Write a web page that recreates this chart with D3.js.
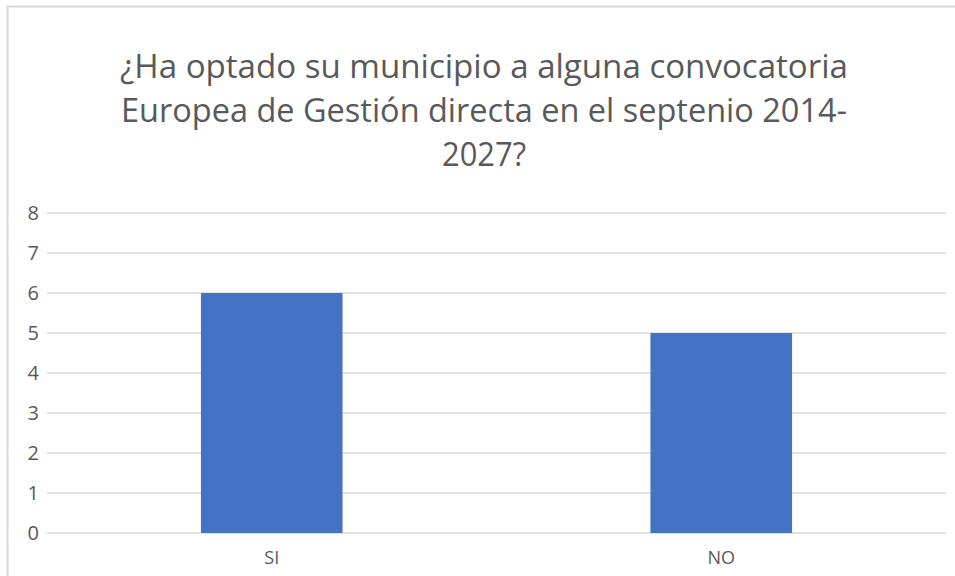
<!DOCTYPE html>
<html>
<head>
<meta charset="utf-8">
<style>
  html, body { margin: 0; padding: 0; background: #fff; }
  svg { display: block; }
  text { font-family: "Open Sans", "Noto Sans", sans-serif; fill: #595959; }
</style>
</head>
<body>
<svg width="955" height="576"></svg>
<script src="https://d3js.org/d3.v7.min.js"></script>
<script>
var categories = ["SI", "NO"];
var values = [6, 5];
var yTicks = [0, 1, 2, 3, 4, 5, 6, 7, 8];
var titleLines = [
  "¿Ha optado su municipio a alguna convocatoria",
  "Europea de Gestión directa en el septenio 2014-",
  "2027?"
];

var svg = d3.select("svg"),
    width = +svg.attr("width"),
    height = +svg.attr("height");

// chart border (left + top visible, rest cropped)
svg.append("rect")
    .attr("x", 7.5).attr("y", 6.5)
    .attr("width", 960).attr("height", 600)
    .attr("fill", "none")
    .attr("stroke", "#d9d9d9")
    .attr("stroke-width", 2);

// title
var titleWidths = [728, 726, 84];
svg.append("g").selectAll("text")
    .data(titleLines)
  .enter().append("text")
    .attr("x", 484)
    .attr("y", function(d, i) { return 78 + i * 44; })
    .attr("text-anchor", "middle")
    .attr("textLength", function(d, i) { return titleWidths[i]; })
    .attr("lengthAdjust", "spacingAndGlyphs")
    .style("font-size", "32px")
    .text(function(d) { return d; });

var margin = {left: 47, right: 946, top: 213, bottom: 533};

var x = d3.scaleBand()
    .domain(categories)
    .range([margin.left, margin.right])
    .paddingInner(0.685)
    .paddingOuter(0.3425);

var y = d3.scaleLinear()
    .domain([0, 8])
    .range([margin.bottom, margin.top]);

// gridlines
svg.append("g").selectAll("line")
    .data(yTicks)
  .enter().append("line")
    .attr("x1", margin.left).attr("x2", margin.right)
    .attr("y1", function(d) { return y(d); })
    .attr("y2", function(d) { return y(d); })
    .attr("stroke", "#d9d9d9")
    .attr("stroke-width", 1.5);

// y labels
svg.append("g").selectAll("text")
    .data(yTicks)
  .enter().append("text")
    .attr("x", 39)
    .attr("y", function(d) { return y(d); })
    .attr("dy", "0.35em")
    .attr("text-anchor", "end")
    .style("font-size", "20px")
    .text(function(d) { return d; });

// bars
svg.append("g").selectAll("rect")
    .data(values)
  .enter().append("rect")
    .attr("x", function(d, i) { return x(categories[i]); })
    .attr("width", x.bandwidth())
    .attr("y", function(d) { return y(d); })
    .attr("height", function(d) { return y(0) - y(d); })
    .attr("fill", "#4472c4");

// x labels
svg.append("g").selectAll("text")
    .data(categories)
  .enter().append("text")
    .attr("x", function(d) { return x(d) + x.bandwidth() / 2; })
    .attr("y", 564)
    .attr("text-anchor", "middle")
    .style("font-size", "18px")
    .text(function(d) { return d; });
</script>
</body>
</html>
